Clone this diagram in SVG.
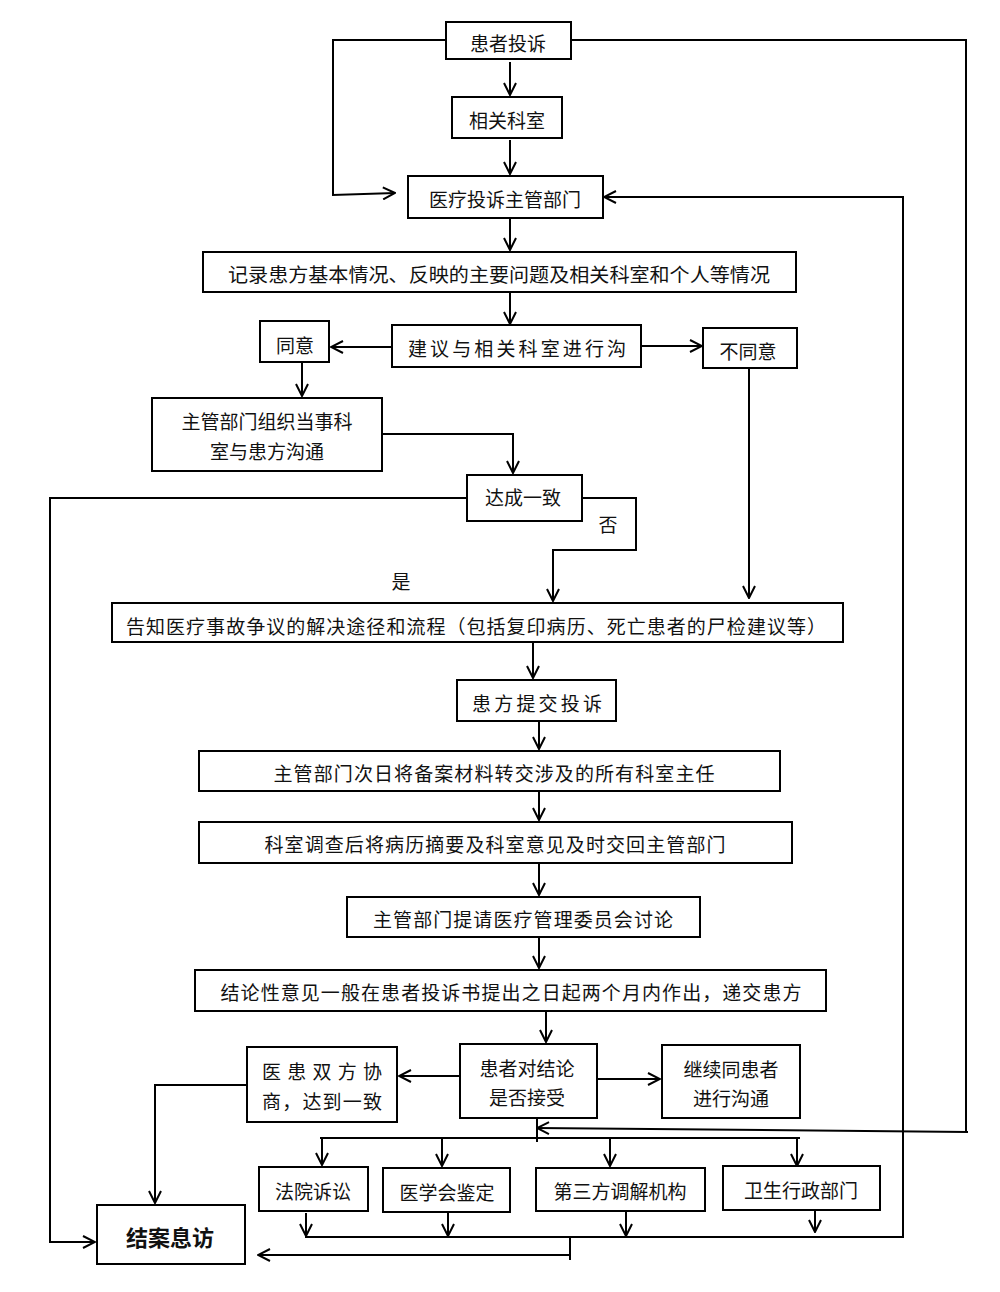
<svg xmlns="http://www.w3.org/2000/svg" width="1000" height="1292" viewBox="0 0 1000 1292">
<style>
.box{fill:#fff;stroke:#000;stroke-width:2}
.t{font-family:"Noto Sans CJK SC","Liberation Sans",sans-serif;font-size:19px;fill:#111;text-anchor:middle;dominant-baseline:central}
.b{font-weight:bold;font-size:22px}
.ln{fill:none;stroke:#000;stroke-width:2}
.ar{fill:none;stroke:#000;stroke-width:2;marker-end:url(#ah)}
</style>
<defs>
<marker id="ah" viewBox="0 0 14 14" refX="13" refY="7" markerWidth="14" markerHeight="14" markerUnits="userSpaceOnUse" orient="auto">
<path d="M1,1 L13,7 L1,13" fill="none" stroke="#000" stroke-width="2"/>
</marker>
</defs>
<rect width="1000" height="1292" fill="#fff"/>

<g id="connectors">
<path class="ar" d="M510,62 V95"/>
<path class="ar" d="M510,140 V174"/>
<path class="ar" d="M446,40 H333 V195 L395,193"/>
<path class="ln" d="M571,40 H966 V1132"/>
<path class="ar" d="M968,1132 L537,1128"/>
<path class="ar" d="M903,1237 V197 H604"/>
<path class="ar" d="M510,218 V250"/>
<path class="ar" d="M510,292 V324"/>
<path class="ar" d="M392,347 H331"/>
<path class="ar" d="M641,346 H702"/>
<path class="ar" d="M302,362 V396"/>
<path class="ar" d="M382,434 H513 V473"/>
<path class="ar" d="M467,498 H50 V1242 H95"/>
<path class="ar" d="M582,498 H636 V550 H553 V601"/>
<path class="ar" d="M749,368 V598"/>
<path class="ar" d="M533,642 V678"/>
<path class="ar" d="M539,721 V749"/>
<path class="ar" d="M539,791 V820"/>
<path class="ar" d="M539,863 V895"/>
<path class="ar" d="M539,937 V968"/>
<path class="ar" d="M546,1011 V1042"/>
<path class="ar" d="M460,1076 H399"/>
<path class="ar" d="M597,1079 H660"/>
<path class="ar" d="M247,1085 H155 V1203"/>
<path class="ln" d="M537,1118 V1142"/>
<path class="ln" d="M320,1138 H800"/>
<path class="ar" d="M322,1138 V1165"/>
<path class="ar" d="M442,1138 V1166"/>
<path class="ar" d="M610,1138 V1166"/>
<path class="ar" d="M797,1138 V1166"/>
<path class="ar" d="M306,1213 V1236"/>
<path class="ar" d="M448,1213 V1236"/>
<path class="ar" d="M626,1212 V1236"/>
<path class="ar" d="M815,1211 V1232"/>
<path class="ln" d="M305,1237 H904"/>
<path class="ln" d="M570,1237 V1260"/>
<path class="ar" d="M570,1255 H258"/>
<text class="t" x="608" y="523">否</text>
<text class="t" x="401" y="580">是</text>
</g>

<g id="n1"><rect class="box" x="446" y="22" width="125" height="37"/><text class="t" x="508" y="42">患者投诉</text></g>
<g id="n2"><rect class="box" x="452" y="97" width="110" height="41"/><text class="t" x="507" y="119">相关科室</text></g>
<g id="n3"><rect class="box" x="408" y="176" width="195" height="42"/><text class="t" x="505" y="198">医疗投诉主管部门</text></g>
<g id="n4"><rect class="box" x="203" y="252" width="593" height="40"/><text class="t" x="499" y="273" textLength="542" lengthAdjust="spacingAndGlyphs">记录患方基本情况、反映的主要问题及相关科室和个人等情况</text></g>
<g id="n5"><rect class="box" x="392" y="325" width="249" height="42"/><text class="t" x="517" y="347" textLength="218">建议与相关科室进行沟</text></g>
<g id="n6"><rect class="box" x="260" y="321" width="69" height="41"/><text class="t" x="295" y="344">同意</text></g>
<g id="n7"><rect class="box" x="703" y="328" width="94" height="40"/><text class="t" x="748" y="350">不同意</text></g>
<g id="n8"><rect class="box" x="152" y="398" width="230" height="73"/><text class="t" x="267" y="420">主管部门组织当事科</text><text class="t" x="267" y="450">室与患方沟通</text></g>
<g id="n9"><rect class="box" x="467" y="475" width="115" height="46"/><text class="t" x="523" y="496">达成一致</text></g>
<g id="n10"><rect class="box" x="112" y="603" width="731" height="39"/><text class="t" x="476" y="625" textLength="700">告知医疗事故争议的解决途径和流程（包括复印病历、死亡患者的尸检建议等）</text></g>
<g id="n11"><rect class="box" x="457" y="680" width="159" height="41"/><text class="t" x="537" y="702" textLength="130">患方提交投诉</text></g>
<g id="n12"><rect class="box" x="199" y="751" width="581" height="40"/><text class="t" x="494" y="772" textLength="441">主管部门次日将备案材料转交涉及的所有科室主任</text></g>
<g id="n13"><rect class="box" x="199" y="822" width="593" height="41"/><text class="t" x="495" y="843" textLength="461">科室调查后将病历摘要及科室意见及时交回主管部门</text></g>
<g id="n14"><rect class="box" x="347" y="897" width="353" height="40"/><text class="t" x="523" y="918" textLength="300">主管部门提请医疗管理委员会讨论</text></g>
<g id="n15"><rect class="box" x="195" y="970" width="631" height="41"/><text class="t" x="511" y="991" textLength="581">结论性意见一般在患者投诉书提出之日起两个月内作出，递交患方</text></g>
<g id="n16"><rect class="box" x="460" y="1044" width="137" height="74"/><text class="t" x="527" y="1067">患者对结论</text><text class="t" x="527" y="1096">是否接受</text></g>
<g id="n17"><rect class="box" x="247" y="1047" width="150" height="75"/><text class="t" x="322" y="1070" textLength="120">医患双方协</text><text class="t" x="322" y="1100" textLength="120">商，达到一致</text></g>
<g id="n18"><rect class="box" x="662" y="1045" width="138" height="73"/><text class="t" x="731" y="1068">继续同患者</text><text class="t" x="731" y="1097">进行沟通</text></g>
<g id="n19"><rect class="box" x="259" y="1167" width="109" height="44"/><text class="t" x="313" y="1190">法院诉讼</text></g>
<g id="n20"><rect class="box" x="383" y="1168" width="127" height="44"/><text class="t" x="447" y="1191">医学会鉴定</text></g>
<g id="n21"><rect class="box" x="536" y="1168" width="169" height="43"/><text class="t" x="620" y="1190">第三方调解机构</text></g>
<g id="n22"><rect class="box" x="723" y="1166" width="157" height="44"/><text class="t" x="801" y="1189">卫生行政部门</text></g>
<g id="n23"><rect class="box" x="97" y="1205" width="148" height="59"/><text class="t b" x="170" y="1236">结案息访</text></g>
</svg>
